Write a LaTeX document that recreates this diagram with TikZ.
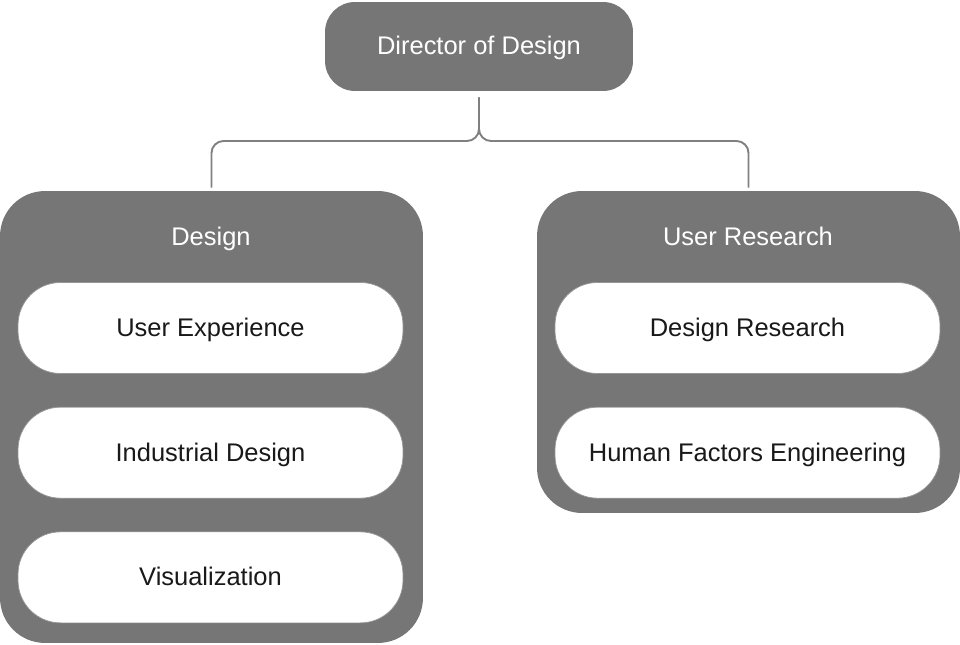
\documentclass[tikz,border=0pt]{standalone}
\usepackage{fontspec}
\setmainfont{Liberation Sans}
\usetikzlibrary{positioning}

\definecolor{boxgray}{RGB}{118,118,118}
\definecolor{linegray}{RGB}{128,128,128}
\definecolor{rimgray}{RGB}{150,150,150}

\tikzset{
  even text/.style={text height=1.0em, text depth=0.05em},
  headbox/.style={fill=boxgray, draw=none, rounded corners=0.6cm, text=white,
    minimum width=6.16cm, minimum height=1.78cm, inner sep=0pt, even text},
  groupbox/.style={fill=boxgray, draw=none, rounded corners=0.9cm,
    minimum width=8.46cm, inner sep=0pt},
  grouptitle/.style={text=white, even text},
  unitbox/.style={fill=white, draw=rimgray, line width=0.4pt, rounded corners=0.85cm,
    minimum width=7.7cm, minimum height=1.82cm, inner sep=0pt, text=black!90, even text},
  link/.style={draw=linegray, line width=1.1pt, rounded corners=0.24cm}
}

\begin{document}
\begin{tikzpicture}[x=0.02cm, y=-0.02cm, font=\fontsize{14.5}{17}\selectfont]

  \useasboundingbox (0,0) rectangle (960,645);

  % top
  \node[headbox] (director) at (479,46.5) {Director of Design};

  % two groups
  \node[groupbox, minimum height=9.04cm] (design) at (211.5,417) {};
  \node[groupbox, minimum height=6.44cm] (research) at (748.5,352) {};

  \node[grouptitle] (designtitle) at (211,237) {Design};
  \node[grouptitle] (researchtitle) at (748,237) {User Research};

  % units
  \node[unitbox] (ux) at (210.5,328) {User Experience};
  \node[unitbox, below=0.66cm of ux] (industrial) {Industrial Design};
  \node[unitbox, below=0.66cm of industrial] (vis) {Visualization};

  \node[unitbox] (designres) at (747.5,328) {Design Research};
  \node[unitbox, below=0.66cm of designres] (hfe) {Human Factors Engineering};

  % connectors
  \draw[link, shorten <=0.12cm] (director.south) -- (director.south |- 0,141)
      -- (design.north |- 0,141) -- ([yshift=0.06cm]design.north);
  \draw[link, shorten <=0.12cm] (director.south) -- (director.south |- 0,141)
      -- (research.north |- 0,141) -- ([yshift=0.06cm]research.north);

\end{tikzpicture}
\end{document}
